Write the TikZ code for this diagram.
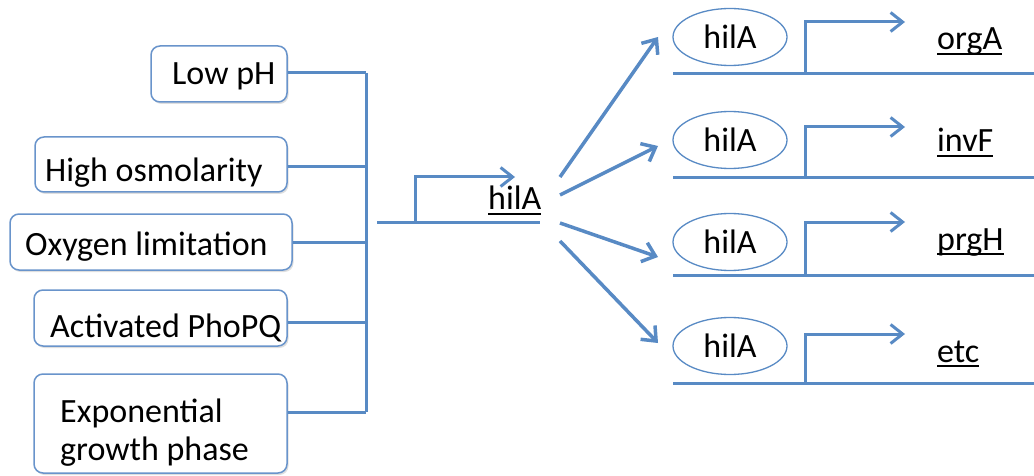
\documentclass[tikz,border=0pt]{standalone}
\usepackage{fontspec}
\setmainfont{Carlito}
\usetikzlibrary{arrows.meta,shadows,shapes.geometric}
\definecolor{lineblue}{RGB}{88,138,196}
\definecolor{boxblue}{RGB}{105,148,203}
\newcommand\genul[1]{\setbox0\hbox{#1}\rlap{\rule[-5pt]{\wd0}{1.8pt}}\box0}
\begin{document}
\begin{tikzpicture}[x=1pt,y=-1pt,
  font=\fontsize{34}{38}\selectfont,
  box/.style={draw=boxblue,line width=1.5pt,rounded corners=9pt,fill=white,inner sep=0pt,
    drop shadow={shadow xshift=1.5pt,shadow yshift=-2pt,opacity=0.25}},
  lbl/.style={anchor=base west,inner sep=0pt,align=left},
  bus/.style={draw=lineblue,line width=3pt},
  prom/.style={draw=lineblue,line width=3pt,-{Straight Barb[length=12pt,width=19pt]}},
  arr/.style={draw=lineblue,line width=3.5pt,-{Straight Barb[length=12pt,width=20pt]}},
  hilabox/.style={ellipse,draw=lineblue,line width=1.3pt,minimum width=114,minimum height=57,inner sep=0pt}]
\useasboundingbox (0,0) rectangle (1034,476);
% input boxes
\node[box,minimum width=136,minimum height=56] (b1) at (219,74) {};
\node[box,minimum width=252,minimum height=55] (b2) at (161,164.5) {};
\node[box,minimum width=282,minimum height=56] (b3) at (151,242) {};
\node[box,minimum width=253,minimum height=56] (b4) at (160.5,318) {};
\node[box,minimum width=253,minimum height=99] (b5) at (160.5,423.5) {};
\node[lbl] (t1) at (172,85) {Low pH};
\node[lbl] (t2) at (45,182) {High osmolarity};
\node[lbl] (t3) at (25,255) {Oxygen limitation};
\node[lbl] (t4) at (50,337) {Activated PhoPQ};
\node[lbl] (t5) at (60,460) {Exponential\\growth phase};
% bus
\coordinate (bt) at (366,73);
\coordinate (bb) at (366,412);
\draw[bus] (bt) -- (bb);
\draw[bus] (b1.east |- 0,73) -- (bt);
\draw[bus] (b2.east |- 0,167) -- (bt |- 0,167);
\draw[bus] (b3.east |- 0,242) -- (bt |- 0,242);
\draw[bus] (b4.east |- 0,322) -- (bt |- 0,322);
\draw[bus] (b5.east |- 0,412) -- (bb);
% central hilA gene
\coordinate (hin) at (377,222);
\coordinate (hout) at (540,222);
\coordinate (pr0) at (415,222);
\draw[bus] (hin) -- (hout);
\draw[prom] (pr0) -- ++(0,-45) -- ++(100,0);
\node[lbl] (hila) at (488,210) {\genul{hilA}};
% diagonal arrows
\coordinate (s1) at (560,177); \coordinate (a1) at (658,37);
\coordinate (s2) at (560,195); \coordinate (a2) at (658,146);
\coordinate (s3) at (560,223); \coordinate (a3) at (658,257);
\coordinate (s4) at (560,241); \coordinate (a4) at (658,343);
\draw[arr] (s1) -- (a1);
\draw[arr] (s2) -- (a2);
\draw[arr] (s3) -- (a3);
\draw[arr] (s4) -- (a4);
% target genes
\foreach \E/\L/\P/\T/\g/\n in {37/74/22/50/orgA/1,140/178/127/152/invF/2,242/275/222/250/prgH/3,346/383/334/362/etc/4}{
  \node[hilabox] (e\n) at (730,\E) {hilA};
  \coordinate (l\n) at (673,\L);
  \coordinate (r\n) at (1036,\L);
  \coordinate (p\n) at (805,\L);
  \draw[bus] (l\n) -- (r\n);
  \draw[prom] (p\n) -- (805,\P) -- (905,\P);
  \node[lbl] (g\n) at (937,\T) {\genul{\g}};
}
\end{tikzpicture}
\end{document}
